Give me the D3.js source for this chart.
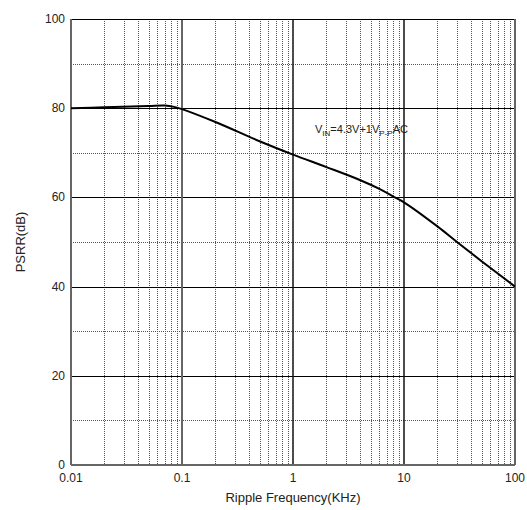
<!DOCTYPE html>
<html>
<head>
<meta charset="utf-8">
<script src="https://cdn.jsdelivr.net/npm/d3@7"></script>
<style>
  body { margin: 0; background: #fff; }
  text { font-family: "Liberation Sans", Arial, sans-serif; fill: #222; }
</style>
</head>
<body>
<div id="chart"></div>
<script>
// PSRR vs ripple frequency
const freq = [0.01, 0.02, 0.05, 0.07, 0.085, 0.1, 0.2, 0.5, 1, 2, 4, 6, 8, 10, 20, 30, 50, 100];
const psrr = [80, 80.2, 80.5, 80.6, 80.3, 79.8, 76.9, 72.6, 69.6, 66.8, 63.9, 61.9, 60.2, 58.9, 53.5, 50, 45.7, 40];

const xTicks = [0.01, 0.1, 1, 10, 100];
const xTickLabels = ["0.01", "0.1", "1", "10", "100"];
const yTicks = [0, 20, 40, 60, 80, 100];

const margin = { top: 19, right: 12, bottom: 45, left: 71 };
const width = 527 - margin.left - margin.right;
const height = 510 - margin.top - margin.bottom;

const svg = d3.select("#chart")
  .append("svg")
  .attr("width", 527)
  .attr("height", 510)
  .append("g")
  .attr("transform", "translate(" + margin.left + "," + margin.top + ")");

const x = d3.scaleLog().domain([0.01, 100]).range([0, width]);
const y = d3.scaleLinear().domain([0, 100]).range([height, 0]);

// minor vertical grid (2..9 in each decade)
const minorX = [];
for (let d = 0.01; d < 100; d *= 10) {
  for (let k = 2; k <= 9; k++) minorX.push(+(d * k).toPrecision(3));
}
svg.selectAll(".minor-x")
  .data(minorX)
  .enter().append("line")
  .attr("x1", d => Math.round(x(d)) + 0.5)
  .attr("x2", d => Math.round(x(d)) + 0.5)
  .attr("y1", 0)
  .attr("y2", height)
  .attr("stroke", "#555")
  .attr("stroke-width", 1)
  .attr("stroke-dasharray", "1,1");

// minor horizontal grid (10, 30, 50, 70, 90)
const minorY = d3.range(10, 100, 20);
svg.selectAll(".minor-y")
  .data(minorY)
  .enter().append("line")
  .attr("x1", 0)
  .attr("x2", width)
  .attr("y1", d => Math.round(y(d)) + 0.5)
  .attr("y2", d => Math.round(y(d)) + 0.5)
  .attr("stroke", "#555")
  .attr("stroke-width", 1)
  .attr("stroke-dasharray", "1,1");

// major grid
svg.selectAll(".major-y")
  .data(yTicks.slice(1, -1))
  .enter().append("line")
  .attr("x1", 0)
  .attr("x2", width)
  .attr("y1", d => Math.round(y(d)) + 0.5)
  .attr("y2", d => Math.round(y(d)) + 0.5)
  .attr("stroke", "#000")
  .attr("stroke-width", 1);

svg.selectAll(".major-x")
  .data(xTicks.slice(1, -1))
  .enter().append("line")
  .attr("x1", d => x(d))
  .attr("x2", d => x(d))
  .attr("y1", 0)
  .attr("y2", height)
  .attr("stroke", d => d === 0.1 ? "#666" : "#111")
  .attr("stroke-width", d => d === 0.1 ? 2 : 1.5);

// frame
svg.append("line").attr("x1", 0).attr("x2", width).attr("y1", 0.5).attr("y2", 0.5)
  .attr("stroke", "#000").attr("stroke-width", 1);
svg.append("line").attr("x1", 0).attr("x2", width).attr("y1", height).attr("y2", height)
  .attr("stroke", "#666").attr("stroke-width", 2);
svg.append("line").attr("x1", 0).attr("x2", 0).attr("y1", 0).attr("y2", height)
  .attr("stroke", "#666").attr("stroke-width", 2);
svg.append("line").attr("x1", width).attr("x2", width).attr("y1", 0).attr("y2", height)
  .attr("stroke", "#666").attr("stroke-width", 2);

// curve
const line = d3.line()
  .x((d, i) => x(freq[i]))
  .y(d => y(d))
  .curve(d3.curveCatmullRom.alpha(0.5));

svg.append("path")
  .datum(psrr)
  .attr("d", line)
  .attr("fill", "none")
  .attr("stroke", "#000")
  .attr("stroke-width", 2);

// tick labels
svg.selectAll(".xlab")
  .data(xTicks)
  .enter().append("text")
  .attr("x", d => x(d))
  .attr("y", height + 17)
  .attr("text-anchor", "middle")
  .style("font-size", "12px")
  .text((d, i) => xTickLabels[i]);

svg.selectAll(".ylab")
  .data(yTicks)
  .enter().append("text")
  .attr("x", -6)
  .attr("y", d => y(d) + 4)
  .attr("text-anchor", "end")
  .style("font-size", "12px")
  .text(d => d);

// axis titles
svg.append("text")
  .attr("x", width / 2)
  .attr("y", height + 37)
  .attr("text-anchor", "middle")
  .style("font-size", "13px")
  .text("Ripple Frequency(KHz)");

svg.append("text")
  .attr("transform", "translate(" + (-46) + "," + (height / 2) + ") rotate(-90)")
  .attr("text-anchor", "middle")
  .style("font-size", "13px")
  .text("PSRR(dB)");

// condition note
const note = svg.append("text")
  .attr("x", 315 - margin.left)
  .attr("y", 133 - margin.top)
  .style("font-size", "11px");
note.append("tspan").text("V");
note.append("tspan").attr("dy", 3).style("font-size", "8px").text("IN");
note.append("tspan").attr("dy", -3).text("=4.3V+1V");
note.append("tspan").attr("dy", 3).style("font-size", "8px").text("P-P");
note.append("tspan").attr("dy", -3).text("AC");
</script>
</body>
</html>
